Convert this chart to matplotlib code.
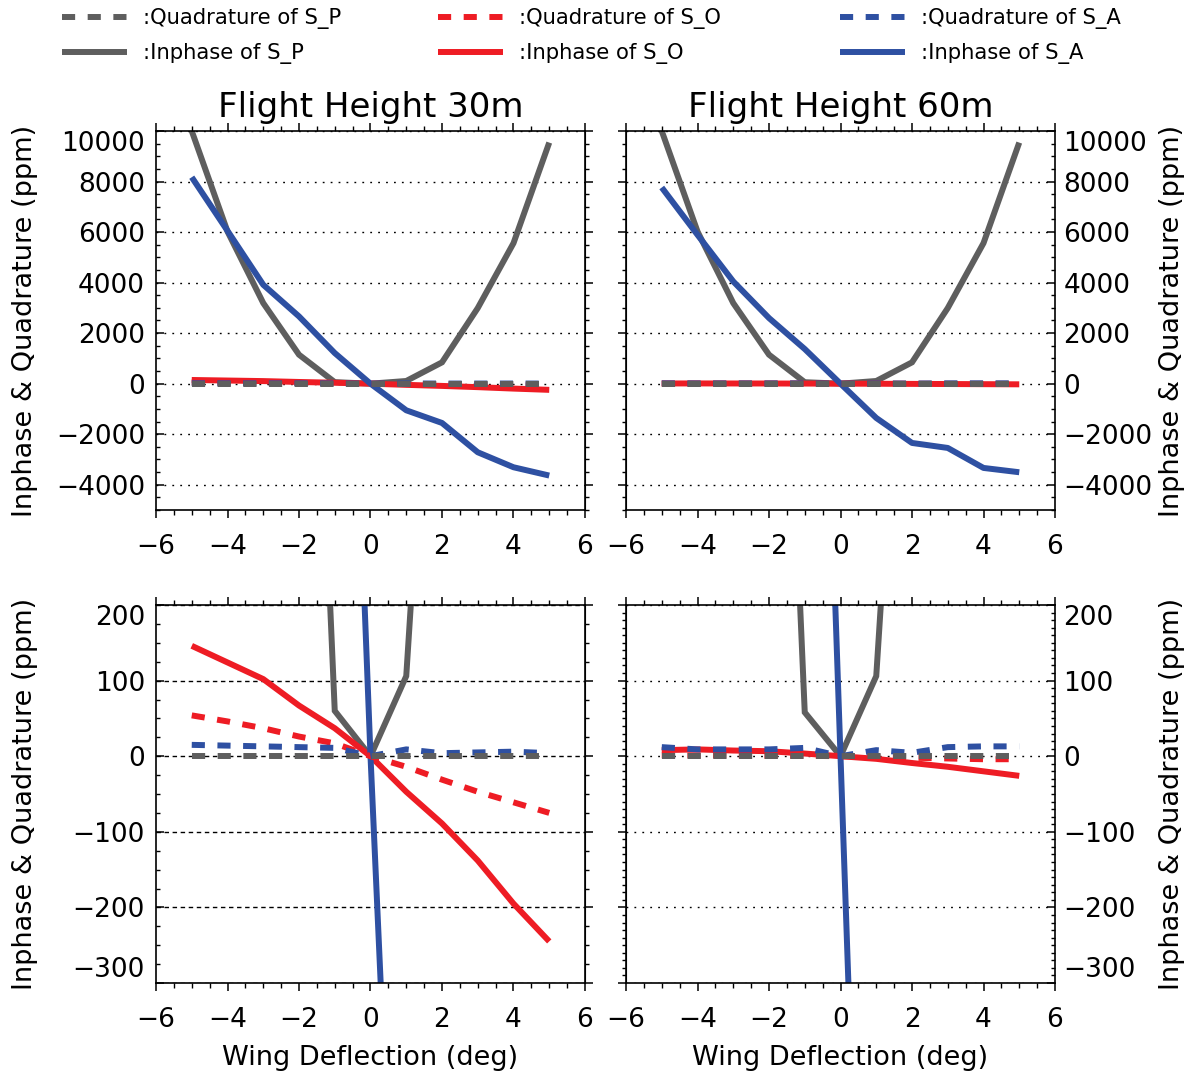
import matplotlib
matplotlib.use('Agg')
import matplotlib.pyplot as plt
from matplotlib.ticker import MultipleLocator, FixedLocator

# ---------------- data ----------------
deflection = [-5, -4, -3, -2, -1, 0, 1, 2, 3, 4, 5]

h30_inphase_SP = [10000, 6023, 3190, 1147, 60, 0, 106, 843, 2992, 5562, 9542]
h30_inphase_SO = [146, 124, 102, 67, 37, 0, -47, -89, -138, -195, -245]
h30_inphase_SA = [8171, 6050, 3914, 2662, 1212, 0, -1054, -1555, -2715, -3308, -3637]
h30_quad_SP = [0, 0, 0, 0, 0, 0, 0, 0, 0, 0, 0]
h30_quad_SO = [54, 46, 37, 26, 17, 0, -14, -31, -47, -61, -75]
h30_quad_SA = [15, 14, 13, 12, 11, 0, 9, 4, 5, 6, 4]

h60_inphase_SP = [10000, 6023, 3190, 1147, 58, 0, 106, 843, 2992, 5562, 9542]
h60_inphase_SO = [8, 9, 7.5, 6.6, 3.5, 0, -3.5, -9, -14, -20, -26]
h60_inphase_SA = [7763, 5891, 4046, 2597, 1371, 0, -1357, -2346, -2544, -3335, -3506]
h60_quad_SP = [0, 0, 0, 0, 0, 0, 0, 0, 0, 0, 0]
h60_quad_SO = [1, 1, 1, 0.5, 0.5, 0, -1, -2, -3, -4, -4]
h60_quad_SA = [12, 9, 9, 9, 11, 0, 8, 4.5, 12, 13, 13]

titles = ["Flight Height 30m", "Flight Height 60m"]
top_yticks = [-4000, -2000, 0, 2000, 4000, 6000, 8000, 10000]
bot_yticks = [-300, -200, -100, 0, 100, 200]
xticks = [-6, -4, -2, 0, 2, 4, 6]

# ---------------- style ----------------
plt.rcParams['font.family'] = ['DejaVu Sans']
GRAY = '#5e5e5e'
RED = '#ee1c24'
BLUE = '#2e50a2'
LW = 4.3
DASH = (0, (2.2, 2.1))
TICKFS = 19
LABFS = 19.5

W, H = 1196, 1077
fig = plt.figure(figsize=(W / 100, H / 100), dpi=100)


def rect(x0, x1, y0, y1):
    return [x0 / W, 1 - y1 / H, (x1 - x0) / W, (y1 - y0) / H]


ax_tl = fig.add_axes(rect(156, 585, 131, 510))
ax_tr = fig.add_axes(rect(626, 1055, 131, 510))
ax_bl = fig.add_axes(rect(156, 585, 605, 983))
ax_br = fig.add_axes(rect(626, 1055, 605, 983))

panels = [
    (ax_tl, 0, 'left', (h30_inphase_SP, h30_inphase_SO, h30_inphase_SA, h30_quad_SP, h30_quad_SO, h30_quad_SA)),
    (ax_tr, 0, 'right', (h60_inphase_SP, h60_inphase_SO, h60_inphase_SA, h60_quad_SP, h60_quad_SO, h60_quad_SA)),
    (ax_bl, 1, 'left', (h30_inphase_SP, h30_inphase_SO, h30_inphase_SA, h30_quad_SP, h30_quad_SO, h30_quad_SA)),
    (ax_br, 1, 'right', (h60_inphase_SP, h60_inphase_SO, h60_inphase_SA, h60_quad_SP, h60_quad_SO, h60_quad_SA)),
]

handles = {}
for ax, row, side, data in panels:
    ip_sp, ip_so, ip_sa, q_sp, q_so, q_sa = data
    l1, = ax.plot(deflection, ip_sp, color=GRAY, lw=LW, solid_capstyle='butt', solid_joinstyle='miter')
    l2, = ax.plot(deflection, ip_so, color=RED, lw=LW, solid_capstyle='butt')
    l3, = ax.plot(deflection, ip_sa, color=BLUE, lw=LW, solid_capstyle='butt')
    l5, = ax.plot(deflection, q_so, color=RED, lw=LW, ls=DASH, dash_capstyle='butt')
    l6, = ax.plot(deflection, q_sa, color=BLUE, lw=LW, ls=DASH, dash_capstyle='butt')
    l4, = ax.plot(deflection, q_sp, color=GRAY, lw=LW, ls=DASH, dash_capstyle='butt')
    if ax is ax_tl:
        handles = dict(ip_sp=l1, ip_so=l2, ip_sa=l3, q_sp=l4, q_so=l5, q_sa=l6)

    ax.set_xlim(-6, 6)
    ax.xaxis.set_major_locator(FixedLocator(xticks))
    ax.xaxis.set_minor_locator(MultipleLocator(0.5))
    ax.tick_params(axis='x', which='both', direction='out', top=True, bottom=True,
                   labelsize=TICKFS, pad=11)
    ax.tick_params(axis='x', which='major', length=6, width=1.1)
    ax.tick_params(axis='x', which='minor', length=3.5, width=1.0)

    if row == 0:
        ax.set_ylim(-5000, 10000)
        ticks = top_yticks
        minor = 500
        grid_ls = (0, (1.3, 4.4))
        ax.set_title(titles[0] if side == 'left' else titles[1], fontsize=24.5, pad=10)
    else:
        ax.set_ylim(-300, 200)
        ticks = bot_yticks
        minor = 25 if side == 'left' else 10
        grid_ls = (0, (3.2, 2.6)) if side == 'left' else (0, (1.3, 4.4))
        ax.set_xlabel("Wing Deflection (deg)", fontsize=LABFS, labelpad=9)

    ax.yaxis.set_major_locator(FixedLocator(ticks))
    ax.yaxis.set_minor_locator(MultipleLocator(minor))
    for t in ticks:
        ax.axhline(t, color='black', lw=1.0, ls=grid_ls, zorder=0.5)

    if side == 'left':
        ax.tick_params(axis='y', which='both', direction='in', left=True, right=False,
                       labelleft=True, labelright=False, labelsize=TICKFS, pad=8)
        sec = ax.secondary_yaxis('right')
        ax.yaxis.set_label_position('left')
    else:
        ax.tick_params(axis='y', which='both', direction='in', left=False, right=True,
                       labelleft=False, labelright=True, labelsize=TICKFS, pad=6)
        sec = ax.secondary_yaxis('left')
        ax.yaxis.set_label_position('right')
    ax.tick_params(axis='y', which='major', length=5.5, width=1.1)
    ax.tick_params(axis='y', which='minor', length=3, width=1.0)
    sec.yaxis.set_major_locator(FixedLocator(ticks))
    sec.yaxis.set_minor_locator(MultipleLocator(minor))
    sec.tick_params(axis='y', which='both', direction='out', labelleft=False, labelright=False)
    sec.tick_params(axis='y', which='major', length=5.5, width=1.1)
    sec.tick_params(axis='y', which='minor', length=3, width=1.0)

    ax.set_ylabel("Inphase & Quadrature (ppm)", fontsize=LABFS, rotation=90)
    if side == 'left':
        ax.yaxis.set_label_coords((38 - 156) / 429, 0.5)
    else:
        ax.yaxis.set_label_coords((1159 - 626) / 429, 0.5)

    for sp in ax.spines.values():
        sp.set_linewidth(1.2)

    # shift end labels inward like the original
    fig.canvas.draw()
    labs = ax.get_yticklabels()
    for lab in labs:
        txt = lab.get_text().replace('\u2212', '-')
        try:
            v = float(txt)
        except ValueError:
            continue
        if v == ticks[-1]:
            lab.set_va('top')
        elif row == 1 and v == ticks[0]:
            lab.set_va('bottom')

# ---------------- legend ----------------
cols = [(62, ('q_sp', 'ip_sp'), ('Quadrature of S_P', 'Inphase of S_P')),
        (438, ('q_so', 'ip_so'), ('Quadrature of S_O', 'Inphase of S_O')),
        (840, ('q_sa', 'ip_sa'), ('Quadrature of S_A', 'Inphase of S_A'))]
for x0, keys, labels in cols:
    fig.legend([handles[k] for k in keys], [':' + l for l in labels],
               loc='upper left', bbox_to_anchor=(x0 / W, 1 - 8 / H),
               frameon=False, fontsize=15.2, handlelength=3.1, handletextpad=0.75,
               labelspacing=0.68, borderpad=0, borderaxespad=0)

fig.savefig('out.png', dpi=100)
